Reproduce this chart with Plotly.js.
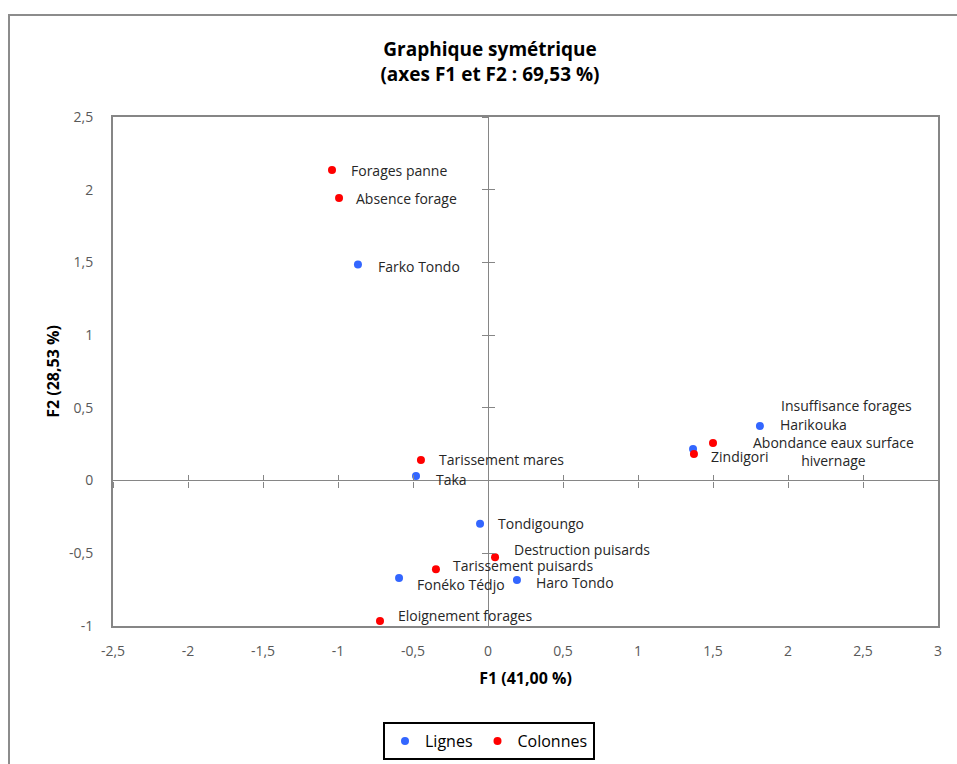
<!DOCTYPE html>
<html>
<head>
<meta charset="utf-8">
<script src="https://cdn.plot.ly/plotly-3.0.1.min.js"></script>
<style>
  html, body { margin: 0; padding: 0; background: #fff; }
  #frame { position: absolute; left: 8px; top: 14px; width: 1200px; height: 1200px;
           border-left: 2px solid #8c8c8c; border-top: 2px solid #8c8c8c; pointer-events: none; }
  #chart { position: absolute; left: 0; top: 0; width: 957px; height: 764px; }
</style>
</head>
<body>
<div id="chart"></div>
<div id="frame"></div>
<script>
// ---- Data ----
const rowNames = ['Farko Tondo', 'Harikouka', 'Zindigori', 'Taka', 'Tondigoungo', 'Fonéko Tédjo', 'Haro Tondo'];
const rowF1 = [-0.867, 1.813, 1.367, -0.48, -0.053, -0.593, 0.193];
const rowF2 = [1.485, 0.375, 0.217, 0.032, -0.297, -0.670, -0.684];

const colNames = ['Forages panne', 'Absence forage', 'Insuffisance forages', 'Abondance eaux surface<br>hivernage',
                  'Tarissement mares', 'Destruction puisards', 'Tarissement puisards', 'Eloignement forages'];
const colF1 = [-1.04, -0.993, 1.373, 1.50, -0.447, 0.047, -0.347, -0.72];
const colF2 = [2.136, 1.943, 0.183, 0.259, 0.142, -0.527, -0.610, -0.965];

const xTickVals = [-2.5, -2, -1.5, -1, -0.5, 0, 0.5, 1, 1.5, 2, 2.5, 3];
const xTickText = ['-2,5', '-2', '-1,5', '-1', '-0,5', '0', '0,5', '1', '1,5', '2', '2,5', '3'];
const yTickVals = [-1, -0.5, 0, 0.5, 1, 1.5, 2, 2.5];
const yTickText = ['-1', '-0,5', '0', '0,5', '1', '1,5', '2', '2,5'];

// ---- Label offsets (pixels: right, up) ----
const rowLabelShift = [[19, -2], [19, 2], [17, -7], [19, -4], [17, 0], [17, -6], [18, -2]];
const colLabelShift = [[18, -1], [16, 0], [86, 48], [39, -9], [17, 0], [18, 8], [16, 4], [17, 5]];

const xRange = [-2.5, 3];
const yRange = [-1, 2.5];
const xZeroFrac = (0 - xRange[0]) / (xRange[1] - xRange[0]);
const yZeroFrac = (0 - yRange[0]) / (yRange[1] - yRange[0]);

const BLUE = 'rgb(51,102,255)';
const RED = 'rgb(255,0,0)';
const FONT = 'Open Sans, sans-serif';

const traces = [
  { type: 'scatter', mode: 'markers', name: 'Lignes', x: rowF1, y: rowF2,
    marker: { color: BLUE, size: 8 }, hoverinfo: 'text', text: rowNames },
  { type: 'scatter', mode: 'markers', name: 'Colonnes', x: colF1, y: colF2,
    marker: { color: RED, size: 8 }, hoverinfo: 'text', text: colNames },
  // helper traces to attach cross-tick axes at the origin
  { type: 'scatter', x: [], y: [], xaxis: 'x2', yaxis: 'y2', showlegend: false, hoverinfo: 'skip' },
  { type: 'scatter', x: [], y: [], xaxis: 'x3', yaxis: 'y3', showlegend: false, hoverinfo: 'skip' }
];

const annotations = [];
function addLabels(names, xs, ys, shifts) {
  names.forEach((n, i) => {
    annotations.push({
      x: xs[i], y: ys[i], xref: 'x', yref: 'y', text: n, showarrow: false,
      xanchor: 'left', yanchor: 'middle', align: 'center',
      xshift: shifts[i][0], yshift: shifts[i][1], borderpad: 0,
      font: { family: FONT, size: 14, color: '#262626' }
    });
  });
}
addLabels(rowNames, rowF1, rowF2, rowLabelShift);
addLabels(colNames, colF1, colF2, colLabelShift);

const tickAxisCommon = {
  range: xRange, tickvals: xTickVals, showticklabels: false, showgrid: false, zeroline: false,
  showline: false, tickcolor: '#868686', ticklen: 6, tickwidth: 1, anchor: 'free'
};

const layout = {
  width: 957, height: 764,
  margin: { l: 113, r: 19, t: 117, b: 138, autoexpand: false },
  paper_bgcolor: 'rgba(0,0,0,0)', plot_bgcolor: '#fff',
  font: { family: FONT, color: '#262626' },
  title: {
    text: '<b>Graphique symétrique</b><br><b>(axes F1 et F2 : 69,53 %)</b>',
    font: { family: FONT, size: 19, color: '#000' },
    x: 0.512, xref: 'container', xanchor: 'center',
    y: 1 - 56 / 764, yref: 'container', yanchor: 'middle'
  },
  showlegend: true,
  legend: {
    orientation: 'h', x: (489 - 113) / 825, xanchor: 'center', y: -(722 - 626) / 509, yanchor: 'top',
    bordercolor: '#000', borderwidth: 2, bgcolor: '#fff',
    font: { family: FONT, size: 16, color: '#000' }, itemwidth: 30
  },
  xaxis: {
    range: xRange, tickvals: xTickVals, ticktext: xTickText, showgrid: false,
    zeroline: true, zerolinecolor: '#868686', zerolinewidth: 1,
    showline: true, mirror: true, linecolor: '#868686', linewidth: 2,
    ticks: '', ticklabelstandoff: 11,
    tickfont: { family: FONT, size: 14, color: '#595959' },
    title: { text: '<b>F1 (41,00 %)</b>', font: { family: FONT, size: 16, color: '#000' }, standoff: 14 },
    automargin: false, fixedrange: true
  },
  yaxis: {
    range: yRange, tickvals: yTickVals, ticktext: yTickText, showgrid: false,
    zeroline: true, zerolinecolor: '#868686', zerolinewidth: 1,
    showline: true, mirror: true, linecolor: '#868686', linewidth: 2,
    ticks: '', ticklabelstandoff: 15,
    tickfont: { family: FONT, size: 14, color: '#595959' },
    title: { text: '<b>F2 (28,53 %)</b>', font: { family: FONT, size: 16, color: '#000' }, standoff: 5 },
    automargin: false, fixedrange: true
  },
  xaxis2: Object.assign({}, tickAxisCommon, { overlaying: 'x', position: yZeroFrac, ticks: 'outside', side: 'bottom' }),
  xaxis3: Object.assign({}, tickAxisCommon, { overlaying: 'x', position: yZeroFrac, ticks: 'inside', side: 'bottom' }),
  yaxis2: Object.assign({}, tickAxisCommon, { range: yRange, tickvals: yTickVals, overlaying: 'y', position: xZeroFrac, ticks: 'outside', side: 'left' }),
  yaxis3: Object.assign({}, tickAxisCommon, { range: yRange, tickvals: yTickVals, overlaying: 'y', position: xZeroFrac, ticks: 'inside', side: 'left' }),
  annotations: annotations
};

Plotly.newPlot('chart', traces, layout, { displayModeBar: false, staticPlot: true });
</script>
</body>
</html>
